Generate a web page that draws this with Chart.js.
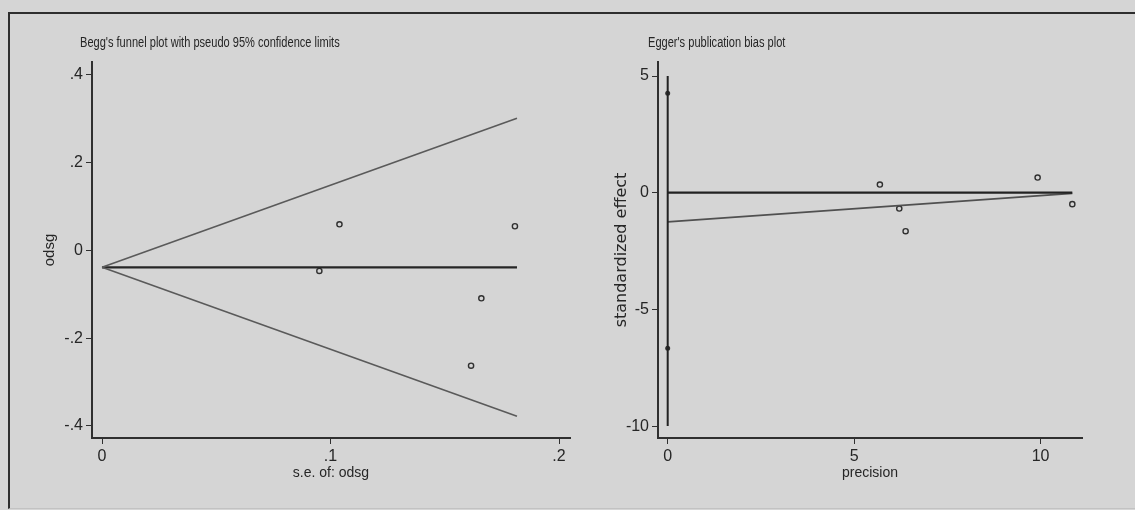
<!DOCTYPE html>
<html>
<head>
<meta charset="utf-8">
<script src="https://cdn.jsdelivr.net/npm/chart.js@4.4.1/dist/chart.umd.min.js"></script>
<style>
  html, body { margin: 0; padding: 0; background: #d5d5d5; width: 1135px; height: 510px; overflow: hidden; }
  #frame { position: absolute; left: 8px; top: 12px; width: 1127px; height: 497px; box-sizing: border-box;
           border-top: 2px solid #2e2e2e; border-left: 2px solid #2e2e2e; border-bottom: 1px solid #c2c2c2; }
  .panel { position: absolute; top: 0; height: 510px; }
</style>
</head>
<body>
<div id="frame"></div>
<div class="panel" style="left:0;width:580px"><canvas id="begg" width="580" height="510"></canvas></div>
<div class="panel" style="left:580px;width:555px"><canvas id="egger" width="555" height="510"></canvas></div>
<script>
// ---- Begg's funnel plot ----
const seValues   = [0.1039, 0.0951, 0.1807, 0.1660, 0.1615];
const odsgValues = [0.0597, -0.0467, 0.0552, -0.1090, -0.2626];
const pooledEstimate = -0.0383;
const funnelSe    = [0, 0.1816];
const funnelUpper = [-0.0383, 0.3013];
const funnelLower = [-0.0383, -0.3779];
const beggXTicks = [0, 0.1, 0.2];
const beggXLabels = ['0', '.1', '.2'];
const beggYTicks = [-0.4, -0.2, 0, 0.2, 0.4];
const beggYLabels = ['-.4', '-.2', '0', '.2', '.4'];

// ---- Egger's publication bias plot ----
const precisionValues = [5.69, 6.21, 6.38, 9.92, 10.85];
const stdEffectValues = [0.35, -0.68, -1.65, 0.65, -0.49];
const regressionX = [0, 10.85];
const regressionY = [-1.25, -0.03];
const zeroLineX = [0, 10.85];
const interceptSpanY = [5, -10];
const interceptDotsY = [4.26, -6.66];
const eggerXTicks = [0, 5, 10];
const eggerXLabels = ['0', '5', '10'];
const eggerYTicks = [-10, -5, 0, 5];
const eggerYLabels = ['-10', '-5', '0', '5'];

const SANS = "'Liberation Sans', Arial, sans-serif";
const INK = '#262626';
Chart.defaults.font.family = SANS;
Chart.defaults.color = INK;

// Panel heading, drawn condensed above the plot area
const panelTitle = {
  id: 'panelTitle',
  afterDraw(chart, args, opts) {
    const ctx = chart.ctx;
    ctx.save();
    ctx.font = opts.font;
    ctx.fillStyle = INK;
    ctx.textBaseline = 'alphabetic';
    ctx.textAlign = 'left';
    ctx.translate(chart.chartArea.left + opts.dx, opts.y);
    ctx.scale(opts.squeeze, 1);
    ctx.fillText(opts.text, 0, 0);
    ctx.restore();
  }
};

function pairs(xs, ys) { return xs.map((x, i) => ({ x: x, y: ys[i] })); }

function axis(opts) {
  return {
    type: 'linear',
    min: opts.min, max: opts.max,
    border: { display: true, color: '#303030', width: 2 },
    grid: { display: true, drawOnChartArea: false, drawTicks: true, tickLength: 6, color: '#303030', lineWidth: 1 },
    ticks: {
      padding: 3,
      font: { size: 16 },
      color: INK,
      autoSkip: false,
      maxRotation: 0,
      callback: (v) => { const i = opts.ticks.indexOf(v); return i >= 0 ? opts.labels[i] : ''; }
    },
    afterBuildTicks: (s) => { s.ticks = opts.ticks.map(v => ({ value: v })); },
    afterFit: (s) => { if (opts.width !== undefined) s.width = opts.width; if (opts.height !== undefined) s.height = opts.height; },
    title: opts.title
  };
}

const pointStyle = {
  pointStyle: 'circle', pointRadius: 2.6, borderColor: '#303030', borderWidth: 1.4,
  backgroundColor: 'rgba(0,0,0,0)', showLine: false
};
function lineStyle(color, width) {
  return { showLine: true, pointRadius: 0, borderColor: color, borderWidth: width, fill: false };
}

new Chart(document.getElementById('begg'), {
  type: 'scatter',
  data: {
    datasets: [
      Object.assign({ data: pairs(funnelSe, funnelUpper) }, lineStyle('#5a5a5a', 1.6)),
      Object.assign({ data: pairs(funnelSe, funnelLower) }, lineStyle('#5a5a5a', 1.6)),
      Object.assign({ data: pairs(funnelSe, [pooledEstimate, pooledEstimate]) }, lineStyle('#262626', 2.2)),
      Object.assign({ data: pairs(seValues, odsgValues) }, pointStyle)
    ]
  },
  plugins: [panelTitle],
  options: {
    responsive: false, animation: false,
    layout: { padding: { left: 36, right: 10, top: 62, bottom: 28 } },
    plugins: {
      legend: { display: false }, tooltip: { enabled: false },
      panelTitle: { text: "Begg's funnel plot with pseudo 95% confidence limits", dx: -12, y: 47, squeeze: 0.79, font: "14px " + SANS }
    },
    scales: {
      x: axis({ min: -0.0044, max: 0.2048, ticks: beggXTicks, labels: beggXLabels, height: 44,
        title: { display: true, text: 's.e. of: odsg', font: { size: 14 }, color: INK, padding: { top: 0, bottom: 0 } } }),
      y: axis({ min: -0.4274, max: 0.4296, ticks: beggYTicks, labels: beggYLabels, width: 56,
        title: { display: true, text: 'odsg', font: { size: 15 }, color: INK, padding: { top: 5, bottom: 0 } } })
    }
  }
});

new Chart(document.getElementById('egger'), {
  type: 'scatter',
  data: {
    datasets: [
      Object.assign({ data: pairs([0, 0], interceptSpanY) }, lineStyle('#222', 2)),
      Object.assign({ data: pairs(zeroLineX, [0, 0]) }, lineStyle('#222', 2.2)),
      Object.assign({ data: pairs(regressionX, regressionY) }, lineStyle('#505050', 1.6)),
      Object.assign({ data: pairs([0, 0], interceptDotsY) }, pointStyle, { pointRadius: 1.8, backgroundColor: '#303030' }),
      Object.assign({ data: pairs(precisionValues, stdEffectValues) }, pointStyle)
    ]
  },
  plugins: [panelTitle],
  options: {
    responsive: false, animation: false,
    layout: { padding: { left: 20, right: 53, top: 62, bottom: 28 } },
    plugins: {
      legend: { display: false }, tooltip: { enabled: false },
      panelTitle: { text: "Egger's publication bias plot", dx: -10, y: 47, squeeze: 0.79, font: "14px " + SANS }
    },
    scales: {
      x: axis({ min: -0.26, max: 11.11, ticks: eggerXTicks, labels: eggerXLabels, height: 44,
        title: { display: true, text: 'precision', font: { size: 14 }, color: INK, padding: { top: 0, bottom: 0 } } }),
      y: axis({ min: -10.51, max: 5.6, ticks: eggerYTicks, labels: eggerYLabels, width: 58,
        title: { display: true, text: 'standardized effect', font: { family: "'DejaVu Sans', sans-serif", size: 16 }, color: INK, padding: { top: 12, bottom: 0 } } })
    }
  }
});
</script>
</body>
</html>
